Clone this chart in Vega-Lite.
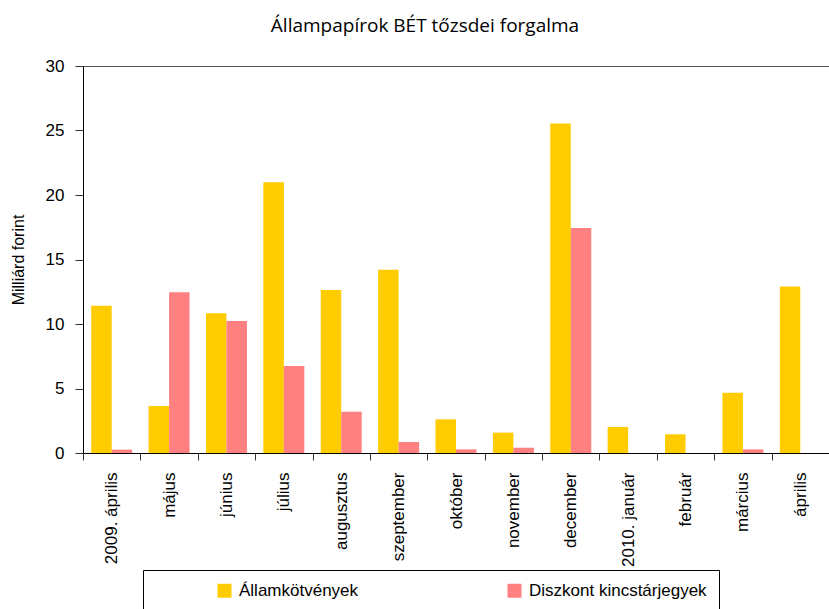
{
  "$schema": "https://vega.github.io/schema/vega-lite/v6.json",
  "width": 746,
  "height": 387,
  "autosize": {"type": "none"},
  "padding": {"left": 83, "top": 66, "right": 0, "bottom": 156},
  "title": {
    "text": "Állampapírok BÉT tőzsdei forgalma",
    "font": "Open Sans",
    "fontSize": 19,
    "fontWeight": "normal",
    "color": "#000",
    "anchor": "middle",
    "dx": -31,
    "baseline": "alphabetic",
    "offset": 6
  },
  "data": {
    "values": [
      {"month": "2009. április", "series": "Államkötvények", "value": 11.42},
      {"month": "2009. április", "series": "Diszkont kincstárjegyek", "value": 0.26},
      {"month": "május", "series": "Államkötvények", "value": 3.64},
      {"month": "május", "series": "Diszkont kincstárjegyek", "value": 12.46},
      {"month": "június", "series": "Államkötvények", "value": 10.83},
      {"month": "június", "series": "Diszkont kincstárjegyek", "value": 10.23},
      {"month": "július", "series": "Államkötvények", "value": 20.98},
      {"month": "július", "series": "Diszkont kincstárjegyek", "value": 6.74},
      {"month": "augusztus", "series": "Államkötvények", "value": 12.64},
      {"month": "augusztus", "series": "Diszkont kincstárjegyek", "value": 3.2},
      {"month": "szeptember", "series": "Államkötvények", "value": 14.21},
      {"month": "szeptember", "series": "Diszkont kincstárjegyek", "value": 0.85},
      {"month": "október", "series": "Államkötvények", "value": 2.61},
      {"month": "október", "series": "Diszkont kincstárjegyek", "value": 0.28},
      {"month": "november", "series": "Államkötvények", "value": 1.58},
      {"month": "november", "series": "Diszkont kincstárjegyek", "value": 0.41},
      {"month": "december", "series": "Államkötvények", "value": 25.55},
      {"month": "december", "series": "Diszkont kincstárjegyek", "value": 17.44},
      {"month": "2010. január", "series": "Államkötvények", "value": 2.02},
      {"month": "2010. január", "series": "Diszkont kincstárjegyek", "value": 0},
      {"month": "február", "series": "Államkötvények", "value": 1.45},
      {"month": "február", "series": "Diszkont kincstárjegyek", "value": 0},
      {"month": "március", "series": "Államkötvények", "value": 4.68},
      {"month": "március", "series": "Diszkont kincstárjegyek", "value": 0.28},
      {"month": "április", "series": "Államkötvények", "value": 12.9},
      {"month": "április", "series": "Diszkont kincstárjegyek", "value": 0}
    ]
  },
  "mark": {"type": "bar"},
  "encoding": {
    "x": {
      "field": "month",
      "type": "nominal",
      "sort": null,
      "scale": {"paddingInner": 0, "paddingOuter": 0},
      "axis": {
        "title": null,
        "labelAngle": 270,
        "labelFont": "Liberation Sans",
        "labelFontSize": 17,
        "labelColor": "#000",
        "labelPadding": 12,
        "labelLimit": 200,
        "tickBand": "extent",
        "tickSize": 7,
        "tickColor": "#333",
        "domainColor": "#000",
        "grid": false
      }
    },
    "xOffset": {
      "field": "series",
      "type": "nominal",
      "sort": ["Államkötvények", "Diszkont kincstárjegyek"],
      "scale": {"paddingInner": 0, "paddingOuter": 0.4}
    },
    "y": {
      "field": "value",
      "type": "quantitative",
      "scale": {"domain": [0, 30], "nice": false},
      "axis": {
        "title": "Milliárd forint",
        "titleFont": "Liberation Sans",
        "titleFontSize": 16,
        "titleFontWeight": "normal",
        "titleColor": "#000",
        "titlePadding": 19,
        "values": [0, 5, 10, 15, 20, 25, 30],
        "labelFont": "Liberation Sans",
        "labelFontSize": 17,
        "labelColor": "#000",
        "labelPadding": 11,
        "tickSize": 8,
        "tickColor": "#333",
        "domainColor": "#000",
        "grid": true,
        "gridColor": "#555",
        "gridOpacity": {"condition": {"test": "datum.value === 30", "value": 1}, "value": 0}
      }
    },
    "color": {
      "field": "series",
      "type": "nominal",
      "sort": ["Államkötvények", "Diszkont kincstárjegyek"],
      "scale": {"domain": ["Államkötvények", "Diszkont kincstárjegyek"], "range": ["#FFCC00", "#FF8080"]},
      "legend": {
        "title": null,
        "orient": "none",
        "direction": "horizontal",
        "legendX": 60,
        "legendY": 504,
        "padding": 12,
        "strokeColor": "#000",
        "symbolType": "square",
        "symbolSize": 196,
        "symbolStrokeWidth": 0,
        "symbolOpacity": 1,
        "symbolOffset": 61,
        "labelOffset": 6,
        "columnPadding": 86,
        "labelFont": "Liberation Sans",
        "labelFontSize": 17,
        "labelColor": "#000",
        "labelLimit": 400,
        "labelExpr": "datum.label === 'Diszkont kincstárjegyek' ? datum.label + '             ' : datum.label"
      }
    }
  },
  "config": {
    "view": {"stroke": null},
    "axis": {"domainWidth": 1, "tickWidth": 1}
  }
}
